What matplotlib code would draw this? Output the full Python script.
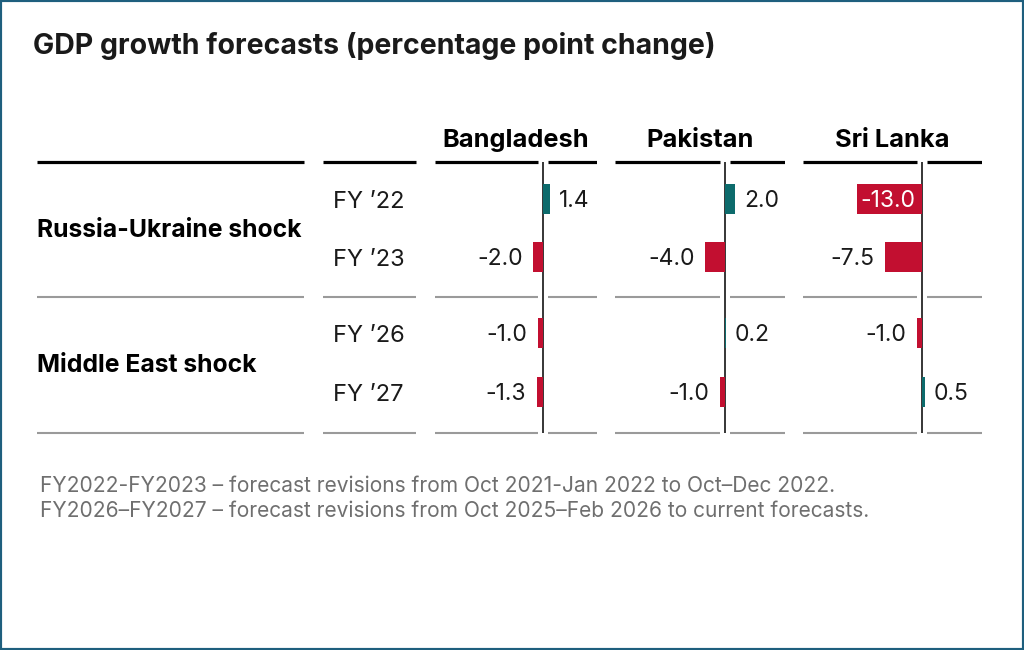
import matplotlib
matplotlib.use("Agg")
import matplotlib.pyplot as plt
from matplotlib.patches import Rectangle

# ---------------- data ----------------
title = "GDP growth forecasts (percentage point change)"
countries = ["Bangladesh", "Pakistan", "Sri Lanka"]
shocks = ["Russia-Ukraine shock", "Middle East shock"]
years = ["FY \u201922", "FY \u201923", "FY \u201926", "FY \u201927"]
bangladesh = [1.4, -2.0, -1.0, -1.3]
pakistan = [2.0, -4.0, 0.2, -1.0]
sri_lanka = [-13.0, -7.5, -1.0, 0.5]
footnotes = [
    "FY2022-FY2023 \u2013 forecast revisions from Oct 2021-Jan 2022 to Oct\u2013Dec 2022.",
    "FY2026\u2013FY2027 \u2013 forecast revisions from Oct 2025\u2013Feb 2026 to current forecasts.",
]
series = [bangladesh, pakistan, sri_lanka]

# ---------------- layout (pixels) ----------------
W, H = 1024, 650
POS_C = "#0d6b6c"
NEG_C = "#c20f30"
GRAY = "#9a9a9a"
TXT = "#1a1a1a"
FOOT_C = "#6f6f6f"
BORDER = "#1e5f7e"

row_y = [199, 257, 333, 392]
shock_base = [237, 372]
line_top, line_mid, line_bot = 162, 297, 433
label_cols = [(37, 304), (323, 416)]
# (left, right, zero) for every country column
cols = [(435, 597, 543), (615, 785, 725), (803, 982, 922)]
header_w = [146, 107, 114]
PX_PER_UNIT = 5.0
BAR_H = 30
GAP = 5  # half gap around zero line in px
NUM_FS = 16.5

FONT_B = ["Inter", "DejaVu Sans"]
FONT_R = ["Inter", "DejaVu Sans"]

fig = plt.figure(figsize=(W / 100, H / 100), dpi=100)
fig.patch.set_facecolor("white")

bg = fig.add_axes([0, 0, 1, 1])
bg.set_xlim(0, W)
bg.set_ylim(H, 0)
bg.axis("off")

renderer = fig.canvas.get_renderer()


def fit(t, target):
    """Scale font size so the text is target px wide."""
    w = t.get_window_extent(renderer=renderer).width
    t.set_fontsize(t.get_fontsize() * target / w)


# title
t = bg.text(33, 54, title, fontsize=19, fontweight="bold", family=FONT_B,
            color=TXT, ha="left", va="baseline")
fit(t, 682)

# row-label column lines
for (x0, x1) in label_cols:
    bg.plot([x0, x1], [line_top, line_top], color="black", lw=2.3, solid_capstyle="butt")
    for yy in (line_mid, line_bot):
        bg.plot([x0, x1], [yy, yy], color=GRAY, lw=1.5, solid_capstyle="butt")

# shock labels
for s, yb in zip(shocks, shock_base):
    t = bg.text(37, yb, s, fontsize=15, fontweight="bold", family=FONT_B,
                color="black", ha="left", va="baseline")
    if s == shocks[0]:
        fit(t, 265)
        shock_fs = t.get_fontsize()
    else:
        t.set_fontsize(shock_fs)

# year labels
for yl, yy in zip(years, row_y):
    bg.text(333, yy + 9, yl, fontsize=17, family=FONT_R, color=TXT,
            ha="left", va="baseline")

# footnotes
ft = []
for i, f in enumerate(footnotes):
    ft.append(bg.text(40, 492 + 25 * i, f, fontsize=13, family=FONT_R,
                      color=FOOT_C, ha="left", va="baseline"))
fit(ft[0], 793)
for x in ft[1:]:
    x.set_fontsize(ft[0].get_fontsize())

# country panels
ytop_px, ybot_px = 150, 445
for name, hw, vals, (x0, x1, z) in zip(countries, header_w, series, cols):
    ax = fig.add_axes([x0 / W, 1 - ybot_px / H, (x1 - x0) / W, (ybot_px - ytop_px) / H])
    ax.set_xlim((x0 - z) / PX_PER_UNIT, (x1 - z) / PX_PER_UNIT)
    ax.set_ylim(ybot_px, ytop_px)
    ax.axis("off")
    xmin, xmax = ax.get_xlim()
    g = GAP / PX_PER_UNIT
    # horizontal rules broken around zero
    ax.hlines([line_top] * 2, [xmin, g], [-g, xmax], color="black", lw=2.3)
    ax.hlines([line_mid] * 2 + [line_bot] * 2, [xmin, g, xmin, g], [-g, xmax, -g, xmax],
              color=GRAY, lw=1.5)
    colors = [POS_C if v >= 0 else NEG_C for v in vals]
    ax.vlines(0, line_top, line_bot, color="black", lw=1.1, zorder=2)
    ax.barh(row_y, vals, height=BAR_H, color=colors, edgecolor="none", zorder=3)
    for v, yy in zip(vals, row_y):
        lab = f"{v:.1f}"
        inside = v < 0 and abs(v) * PX_PER_UNIT + 70 > (z - x0)
        if inside:
            ax.annotate(lab, xy=(0, yy + 8), xytext=(-4.5, 0), textcoords="offset points",
                        ha="right", va="baseline", color="white", fontsize=NUM_FS,
                        family=FONT_R, zorder=4)
        elif v >= 0:
            ax.annotate(lab, xy=(v, yy + 8), xytext=(6.5, 0), textcoords="offset points",
                        ha="left", va="baseline", color=TXT, fontsize=NUM_FS,
                        family=FONT_R, zorder=4)
        else:
            ax.annotate(lab, xy=(v, yy + 8), xytext=(-7.5, 0), textcoords="offset points",
                        ha="right", va="baseline", color=TXT, fontsize=NUM_FS,
                        family=FONT_R, zorder=4)
    th = bg.text((x0 + x1) / 2, 147, name, fontsize=15, fontweight="bold", family=FONT_B,
                 color="black", ha="center", va="baseline")
    fit(th, hw)

# border
fig.patches.append(Rectangle((0, 0), 1, 1, transform=fig.transFigure, fill=False,
                             edgecolor=BORDER, lw=3, zorder=10))

fig.savefig("out.png", dpi=100)
